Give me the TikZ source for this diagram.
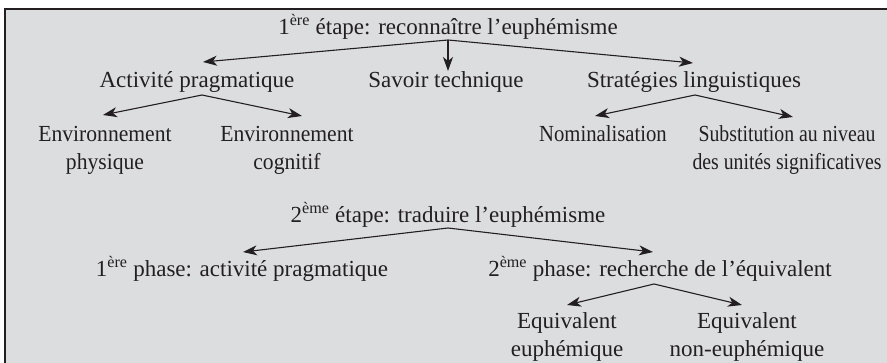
\documentclass[tikz,border=0pt]{standalone}
\usepackage{fontspec}
\setmainfont{Liberation Serif}
\usetikzlibrary{arrows.meta}
\definecolor{bg}{RGB}{220,221,223}
\definecolor{ink}{RGB}{35,31,32}
\begin{document}
\begin{tikzpicture}[x=1pt,y=-1pt,
  lbl/.style={anchor=base, inner sep=0pt, align=center, font=\fontsize{23}{28}\selectfont, text=ink},
  narrow/.style={xscale=#1, transform shape},
  arr/.style={-{Stealth[length=14pt,width=10pt,inset=4pt]}, line width=1.1pt, draw=ink}]
\useasboundingbox (0,0) rectangle (887,363);
\draw[fill=bg, draw=ink, line width=1.5pt] (5,9) rectangle (895,372);
% first stage
\node[lbl] (t1) at (448,35) {1\textsuperscript{ère} étape: reconnaître l’euphémisme};
\node[lbl] (act) at (197,88) {Activité pragmatique};
\node[lbl] (sav) at (446,88) {Savoir technique};
\node[lbl] (str) at (694,88) {Stratégies linguistiques};
\node[lbl, narrow=0.94] (env1) at (105,170) {Environnement\\physique};
\node[lbl, narrow=0.94] (env2) at (287,170) {Environnement\\cognitif};
\node[lbl, narrow=0.9] (nom) at (603,142) {Nominalisation};
\node[lbl, narrow=0.86] (sub) at (787,170) {Substitution au niveau\\des unités significatives};
% second stage
\node[lbl] (t2) at (448,223) {2\textsuperscript{ème} étape: traduire l’euphémisme};
\node[lbl] (ph1) at (242,277) {1\textsuperscript{ère} phase: activité pragmatique};
\node[lbl] (ph2) at (660,277) {2\textsuperscript{ème} phase: recherche de l’équivalent};
\node[lbl] (eq1) at (567,357) {Equivalent\\euphémique};
\node[lbl] (eq2) at (747,357) {Equivalent\\non-euphémique};
% branch points
\coordinate (b1) at (448,40);
\coordinate (b2) at (202,95);
\coordinate (b3) at (695,95);
\coordinate (b4) at (448,228);
\coordinate (b5) at (654,284);
% connectors
\draw[arr] (b1) -- ([shift={(6,-26)}]act.base);
\draw[arr] (b1) -- ([shift={(2,-17)}]sav.base);
\draw[arr] (b1) -- ([shift={(-1,-25)}]str.base);
\draw[arr] (b2) -- ([shift={(-2,-55)}]env1.base);
\draw[arr] (b2) -- ([shift={(15,-54)}]env2.base);
\draw[arr] (b3) -- ([shift={(-8,-26)}]nom.base);
\draw[arr] (b3) -- ([shift={(6,-53)}]sub.base);
\draw[arr] (b4) -- ([shift={(1,-25)}]ph1.base);
\draw[arr] (b4) -- ([shift={(-7,-25)}]ph2.base);
\draw[arr] (b5) -- ([shift={(0,-52)}]eq1.base);
\draw[arr] (b5) -- ([shift={(-5,-52)}]eq2.base);
\end{tikzpicture}
\end{document}
